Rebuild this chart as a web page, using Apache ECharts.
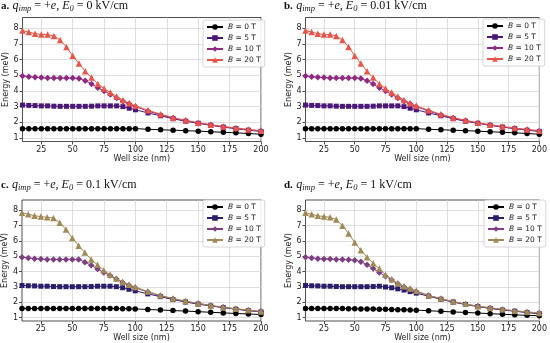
<!DOCTYPE html>
<html><head><meta charset="utf-8">
<script src="https://cdn.jsdelivr.net/npm/echarts@6/dist/echarts.min.js"></script>
<style>html,body{margin:0;padding:0;background:#fff}#c{width:550px;height:343px}</style>
</head><body><div id="c"></div>
<script>
// Well sizes (nm)
const wellSize = [10,15,20,25,30,35,40,45,50,55,60,65,70,75,80,85,90,95,100,110,120,130,140,150,160,170,180,190,200];
const xTicks = [25,50,75,100,125,150,175,200];
const yTicks = [1,2,3,4,5,6,7,8];
const fieldLabels = ['B = 0 T','B = 5 T','B = 10 T','B = 20 T'];
const panelTitles = [
  {tag:'a.', E:'0'},
  {tag:'b.', E:'0.01'},
  {tag:'c.', E:'0.1'},
  {tag:'d.', E:'1'}
];

// Panel a: E0 = 0 kV/cm
const a_B0  = [1.6,1.6,1.6,1.6,1.6,1.6,1.6,1.6,1.6,1.6,1.6,1.6,1.6,1.6,1.6,1.6,1.6,1.6,1.6,1.56,1.53,1.5,1.47,1.44,1.4,1.37,1.33,1.29,1.24];
const a_B5  = [3.1,3.08,3.07,3.05,3.05,3.03,3.02,3.02,3.02,3.02,3.02,3.03,3.05,3.05,3.05,3.05,3.0,2.9,2.8,2.6,2.42,2.23,2.07,1.94,1.81,1.7,1.6,1.5,1.42];
const a_B10 = [4.95,4.9,4.87,4.85,4.83,4.82,4.82,4.82,4.82,4.8,4.65,4.45,4.2,4.0,3.78,3.55,3.35,3.18,3.0,2.72,2.47,2.27,2.1,1.95,1.83,1.71,1.61,1.52,1.45];
const a_B20 = [7.85,7.75,7.65,7.6,7.6,7.5,7.25,6.8,6.25,5.75,5.25,4.85,4.45,4.15,3.9,3.65,3.42,3.22,3.05,2.77,2.52,2.3,2.13,1.98,1.85,1.74,1.64,1.55,1.47];
// Panel b: E0 = 0.01 kV/cm
const b_B0  = [1.6,1.6,1.6,1.6,1.6,1.6,1.6,1.6,1.6,1.6,1.6,1.6,1.6,1.6,1.6,1.6,1.6,1.6,1.6,1.56,1.53,1.5,1.47,1.44,1.4,1.37,1.33,1.29,1.24];
const b_B5  = [3.1,3.08,3.07,3.05,3.05,3.03,3.02,3.02,3.02,3.02,3.02,3.03,3.05,3.05,3.05,3.05,3.0,2.9,2.8,2.6,2.42,2.23,2.07,1.94,1.81,1.7,1.6,1.5,1.42];
const b_B10 = [4.95,4.9,4.87,4.85,4.83,4.82,4.82,4.82,4.82,4.8,4.65,4.45,4.2,4.0,3.78,3.55,3.35,3.18,3.0,2.72,2.47,2.27,2.1,1.95,1.83,1.71,1.61,1.52,1.45];
const b_B20 = [7.85,7.75,7.65,7.6,7.6,7.5,7.25,6.8,6.25,5.75,5.25,4.85,4.45,4.15,3.9,3.65,3.42,3.22,3.05,2.77,2.52,2.3,2.13,1.98,1.85,1.74,1.64,1.55,1.47];
// Panel c: E0 = 0.1 kV/cm
const c_B0  = [1.6,1.6,1.6,1.6,1.6,1.6,1.6,1.6,1.6,1.6,1.6,1.6,1.6,1.6,1.6,1.59,1.58,1.58,1.57,1.53,1.5,1.46,1.43,1.39,1.35,1.31,1.27,1.24,1.2];
const c_B5  = [3.1,3.08,3.07,3.05,3.05,3.03,3.02,3.02,3.02,3.02,3.02,3.03,3.05,3.05,3.05,3.02,2.95,2.85,2.75,2.55,2.37,2.18,2.02,1.88,1.76,1.65,1.55,1.45,1.37];
const c_B10 = [4.95,4.9,4.85,4.83,4.8,4.8,4.8,4.8,4.8,4.8,4.62,4.42,4.18,3.95,3.75,3.52,3.3,3.12,2.95,2.67,2.43,2.22,2.06,1.92,1.79,1.67,1.57,1.48,1.4];
const c_B20 = [7.85,7.75,7.65,7.6,7.55,7.5,7.2,6.75,6.2,5.7,5.25,4.8,4.45,4.1,3.8,3.55,3.35,3.15,3.0,2.7,2.45,2.25,2.08,1.93,1.8,1.68,1.58,1.5,1.4];
// Panel d: E0 = 1 kV/cm
const d_B0  = [1.6,1.6,1.6,1.6,1.6,1.59,1.59,1.58,1.58,1.57,1.56,1.56,1.55,1.54,1.53,1.52,1.51,1.5,1.49,1.45,1.41,1.37,1.34,1.3,1.26,1.22,1.18,1.15,1.12];
const d_B5  = [3.1,3.08,3.07,3.05,3.05,3.03,3.02,3.02,3.02,3.02,3.02,3.03,3.05,3.0,2.95,2.88,2.8,2.7,2.6,2.4,2.2,2.02,1.86,1.72,1.6,1.5,1.42,1.33,1.25];
const d_B10 = [4.95,4.9,4.85,4.83,4.82,4.8,4.8,4.78,4.75,4.65,4.45,4.2,3.95,3.7,3.45,3.22,3.02,2.86,2.7,2.45,2.22,2.02,1.87,1.74,1.62,1.52,1.43,1.35,1.28];
const d_B20 = [7.85,7.75,7.65,7.6,7.55,7.4,7.0,6.5,5.9,5.4,4.95,4.55,4.2,3.8,3.5,3.25,3.05,2.9,2.75,2.45,2.25,2.05,1.9,1.75,1.65,1.55,1.45,1.38,1.3];

const panelData = [[a_B0,a_B5,a_B10,a_B20],[b_B0,b_B5,b_B10,b_B20],[c_B0,c_B5,c_B10,c_B20],[d_B0,d_B5,d_B10,d_B20]];
const colorsAB = ['#000000','#4b1778','#8e2a80','#e8564a'];
const colorsCD = ['#000000','#2c1c6c','#7d3f82','#a08a55'];
const symbols = ['circle','rect','diamond','triangle'];
const symSizes = [5.5,5,6.5,6.5];

const grids = [
  {left:22.5, top:17.5, width:238.5, height:124},
  {left:305.5, top:17.5, width:236, height:124},
  {left:22, top:200, width:239, height:121},
  {left:305.5, top:200, width:236, height:121}
];
const legendPos = [
  {left:203, top:20},{left:483, top:19},{left:203, top:200},{left:484, top:200}
];
const titlePos = [{x:1,y:0},{x:284,y:0},{x:1,y:179},{x:284,y:179}];

const sans = '"DejaVu Sans", sans-serif';
const option = {
  animation:false,
  backgroundColor:'#fff',
  grid: grids.map(g=>Object.assign({show:true, borderColor:'#222', borderWidth:0.8, backgroundColor:'transparent'}, g)),
  xAxis: grids.map((g,i)=>({
    type:'value', gridIndex:i, min:10, max:200,
    name:'Well size (nm)', nameLocation:'middle', nameGap:13,
    nameTextStyle:{fontFamily:sans, fontSize:8, color:'#222'},
    axisLine:{show:false},
    axisTick:{show:true, length:3, customValues:xTicks, lineStyle:{color:'#222', width:0.8}},
    axisLabel:{customValues:xTicks, fontFamily:sans, fontSize:8, color:'#222', margin:4},
    splitLine:{show:true, lineStyle:{color:'#d5d5d5', width:0.8}}
  })),
  yAxis: grids.map((g,i)=>({
    type:'value', gridIndex:i, min:0.78, max:8.68,
    name:'Energy (meV)', nameLocation:'middle', nameGap:10,
    nameTextStyle:{fontFamily:sans, fontSize:8, color:'#222'},
    axisLine:{show:false},
    axisTick:{show:true, length:3, customValues:yTicks, lineStyle:{color:'#222', width:0.8}},
    axisLabel:{customValues:yTicks, fontFamily:sans, fontSize:8, color:'#222', margin:4},
    splitLine:{show:true, lineStyle:{color:'#d5d5d5', width:0.8}}
  })),
  legend: grids.map((g,i)=>({
    orient:'vertical', left:legendPos[i].left, top:legendPos[i].top,
    data: fieldLabels.map(n=>n+'|'+i),
    itemWidth:16, itemHeight:7, itemGap:3,
    padding:[3,4,3,3],
    backgroundColor:'rgba(255,255,255,0.85)', borderColor:'#ccc', borderWidth:0.8, borderRadius:2,
    selectedMode:false,
    formatter: n => '{i|B}{t|' + n.split('|')[0].slice(1) + '}',
    textStyle:{fontFamily:sans, fontSize:7.5, color:'#222',
      rich:{i:{fontFamily:'"DejaVu Sans", sans-serif', fontStyle:'italic', fontSize:7.5, color:'#222'}, t:{fontFamily:sans, fontSize:7.5, color:'#222'}}}
  })),
  series: []
};
panelData.forEach((arrs,p)=>{
  const cols = p<2 ? colorsAB : colorsCD;
  arrs.forEach((vals,k)=>{
    option.series.push({
      type:'line', name: fieldLabels[k]+'|'+p, xAxisIndex:p, yAxisIndex:p,
      data: wellSize.map((x,j)=>[x, vals[j]]),
      symbol: symbols[k], symbolSize: symSizes[k], showSymbol:true,
      lineStyle:{color:cols[k], width:1},
      itemStyle:{color:cols[k]},
      z: 3+k
    });
  });
});
const serif = '"Liberation Serif", serif';
option.graphic = panelTitles.map((t,i)=>({
  type:'text', left:titlePos[i].x, top:titlePos[i].y,
  style:{
    text:'{b|'+t.tag+'} {m|q}{s|imp}{r| = +}{m|e}{r|, }{m|E}{s|0}{r| = '+t.E+' kV/cm}',
    rich:{
      b:{fontFamily:serif, fontWeight:'bold', fontSize:11, fill:'#111'},
      m:{fontFamily:serif, fontStyle:'italic', fontSize:12, fill:'#111'},
      s:{fontFamily:serif, fontStyle:'italic', fontSize:8.5, fill:'#111', padding:[5,0,0,0]},
      r:{fontFamily:serif, fontSize:12, fill:'#111'}
    }
  }
}));
const chart = echarts.init(document.getElementById('c'), null, {renderer:'canvas'});
chart.setOption(option);
</script></body></html>
